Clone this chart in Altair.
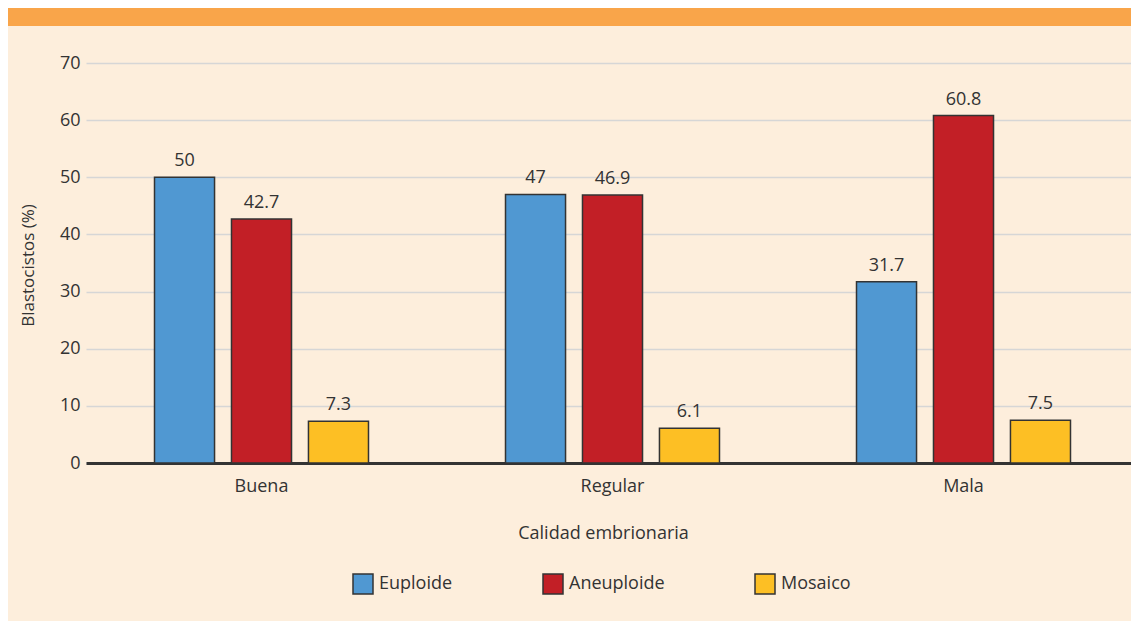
import altair as alt
import pandas as pd

categories = ["Buena", "Regular", "Mala"]
series = ["Euploide", "Aneuploide", "Mosaico"]
euploide = [50, 47, 31.7]
aneuploide = [42.7, 46.9, 60.8]
mosaico = [7.3, 6.1, 7.5]
colors = ["#5098d2", "#c21f26", "#fdbf24"]

rows = []
for i, c in enumerate(categories):
    for s, vals in zip(series, [euploide, aneuploide, mosaico]):
        rows.append({"cat": c, "serie": s, "val": vals[i]})
df = pd.DataFrame(rows)

FONT = "Open Sans"
TXT = "#333333"
W = 1045

base = alt.Chart(df).encode(
    x=alt.X("cat:N", sort=categories,
            scale=alt.Scale(paddingInner=0, paddingOuter=0, range=[0, 1053]),
            axis=alt.Axis(title="Calidad embrionaria", labelAngle=0, ticks=False,
                          domainColor="#333333", domainWidth=3, labelPadding=14,
                          labelFontSize=18, labelColor=TXT, labelFont=FONT,
                          titleFontSize=18, titleFontWeight="normal", titleColor=TXT,
                          titleFont=FONT, titleX=517, titleY=70, titleBaseline="middle",
                          grid=False)),
    xOffset=alt.XOffset("serie:N", sort=series,
                        scale=alt.Scale(paddingInner=0.22, paddingOuter=0.89)),
)

bars = base.mark_bar(stroke="#333333", strokeWidth=1.5).encode(
    y=alt.Y("val:Q", scale=alt.Scale(domain=[0, 70]),
            axis=alt.Axis(title="Blastocistos (%)", values=list(range(0, 71, 10)),
                          ticks=False, domain=False, labelPadding=6,
                          labelFontSize=18, labelColor=TXT, labelFont=FONT,
                          gridColor="#d6d6d6", gridWidth=1.5,
                          titleFontSize=17, titleFontWeight="normal", titleColor=TXT,
                          titleFont=FONT, titleX=-58, titleY=202, titleAngle=-90,
                          titleAlign="center", titleBaseline="middle")),
    color=alt.Color("serie:N", sort=series,
                    scale=alt.Scale(domain=series, range=colors),
                    legend=alt.Legend(title=None, orient="none", legendX=266, legendY=510,
                                      direction="horizontal", columns=3, columnPadding=87,
                                      symbolType="square", symbolSize=400,
                                      symbolStrokeColor="#333333", symbolStrokeWidth=1.5,
                                      labelFontSize=18, labelColor=TXT, labelFont=FONT,
                                      labelOffset=5)),
)

labels = base.mark_text(baseline="bottom", dy=-7, fontSize=18, color=TXT, font=FONT).encode(
    y=alt.Y("val:Q"),
    text=alt.Text("val:Q", format=".1~f"),
)

band = alt.Chart(pd.DataFrame({"a": [0]})).mark_rect(color="#f9a54a").encode(
    x=alt.value(-78), x2=alt.value(W), y=alt.value(-55), y2=alt.value(-37)
)

chart = alt.layer(band, bars, labels).properties(
    width=W, height=400,
    autosize=alt.AutoSizeParams(type="none"),
    padding={"left": 78, "top": 55, "right": 0, "bottom": 158},
    background="#fdeedc",
).configure_view(stroke=None)

chart.save("out.html", embed_options={"renderer": "svg", "actions": False})
